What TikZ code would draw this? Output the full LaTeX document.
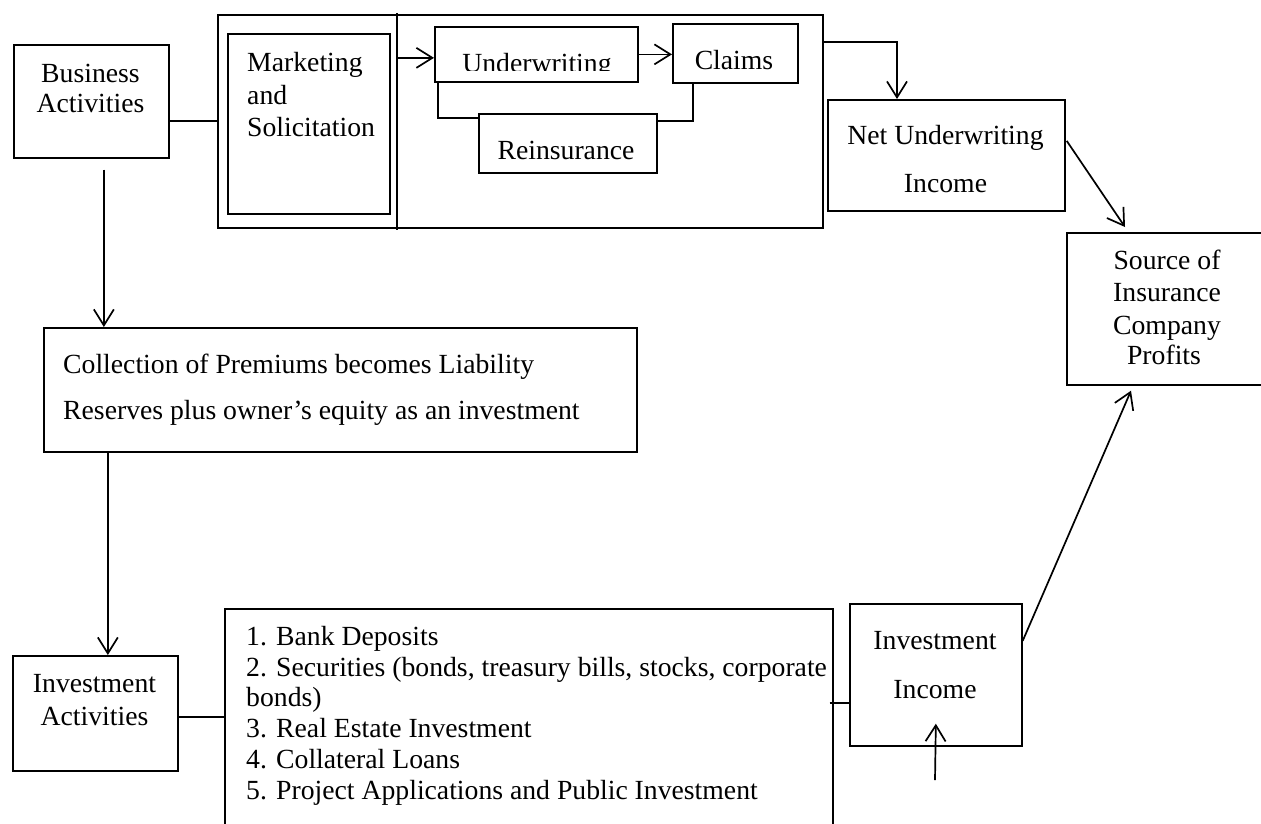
\documentclass[tikz,border=0pt]{standalone}
\usepackage{fontspec}
\setmainfont{Liberation Serif}
\usetikzlibrary{arrows.meta,calc}
\begin{document}
\begin{tikzpicture}[x=1pt,y=-1pt,
  ln/.style={line width=1.7pt},
  arr/.style={line width=1.7pt,-{Straight Barb[length=16pt,width=20pt]}},
  box/.style={draw,line width=1.7pt,inner sep=0pt,anchor=north west},
  txt/.style={inner sep=0pt,anchor=base,font=\fontsize{27.7}{32}\selectfont},
  ltxt/.style={txt,anchor=base west}]
\useasboundingbox (0,0) rectangle (1261,823);
\fill[white] (0,0) rectangle (1261,823);
% boxes
\node[box,minimum width=155pt,minimum height=113pt] (ba) at (13,44) {};
\node[box,minimum width=605pt,minimum height=213pt] (outer) at (217,14) {};
\node[box,minimum width=162pt,minimum height=180pt] (mk) at (227,33) {};
\node[box,minimum width=203pt,minimum height=55pt] (uw) at (434,26) {};
\node[box,minimum width=125pt,minimum height=59pt] (cl) at (672,23) {};
\node[box,minimum width=178pt,minimum height=59pt] (re) at (478,113) {};
\node[box,minimum width=237pt,minimum height=111pt] (nu) at (827,99) {};
\node[box,minimum width=210pt,minimum height=152pt] (so) at (1066,232) {};
\node[box,minimum width=593pt,minimum height=124pt] (co) at (43,327) {};
\node[box,minimum width=165pt,minimum height=115pt] (ia) at (12,655) {};
\node[box,minimum width=608pt,minimum height=240pt] (li) at (224,608) {};
\node[box,minimum width=172pt,minimum height=142pt] (ii) at (849,603) {};
% divider in the outer box
\coordinate (dvt) at (397,13);
\coordinate (dvb) at (397,230);
\draw[ln] (dvt) -- (dvb);
% texts
\node[txt] (t1) at (90.5,82) {Business};
\node[txt] (t2) at (90.5,112) {Activities};
\node[ltxt] (t3) at (247,71) {Marketing};
\node[ltxt] (t4) at (247,104) {and};
\node[ltxt] (t5) at (247,136) {Solicitation};
\begin{scope}
\clip (434,26) rectangle (637,70);
\node[txt] (t6) at (537,72.5) {Underwriting};
\end{scope}
\node[txt] (t7) at (734,69) {Claims};
\node[txt] (t8) at (566,159) {Reinsurance};
\node[txt] (t9) at (945.5,144) {Net Underwriting};
\node[txt] (t10) at (945.5,192) {Income};
\node[txt] (t11) at (1167,269) {Source of};
\node[txt] (t12) at (1167,301) {Insurance};
\node[txt] (t13) at (1167,334) {Company};
\node[txt] (t14) at (1164,364) {Profits};
\node[ltxt] (t15) at (63,373) {Collection of Premiums becomes Liability};
\node[ltxt] (t16) at (63,419) {Reserves plus owner’s equity as an investment};
\node[txt] (t17) at (94.5,692) {Investment};
\node[txt] (t18) at (94.5,725) {Activities};
\node[ltxt] (l1) at (246,645) {1. Bank Deposits};
\node[ltxt] (l2) at (246,676) {2. Securities (bonds, treasury bills, stocks, corporate};
\node[ltxt] (l3) at (246,706) {bonds)};
\node[ltxt] (l4) at (246,737) {3. Real Estate Investment};
\node[ltxt] (l5) at (246,768) {4. Collateral Loans};
\node[ltxt] (l6) at (246,799) {5. Project Applications and Public Investment};
\node[txt] (t19) at (935,649) {Investment};
\node[txt] (t20) at (935,698) {Income};
% helper points
\path ($(ba.east)+(0,19.5)$) coordinate (baR);
\path ($(ba.south)+(12.5,11)$) coordinate (baD);
\path ($(ia.north)+(12.5,0)$) coordinate (iaT);
\path ($(ia.east)+(0,3.5)$) coordinate (iaR);
\path ($(li.east |- ii.west)+(-4,28)$) coordinate (liR);
\coordinate (upS) at (935,780);
% connectors
\draw[ln] (baR) -- (baR -| outer.west);
\draw[arr] (baD) -- (baD |- co.north);
\draw[arr] (iaT |- co.south) -- (iaT);
\draw[ln] (iaR) -- (iaR -| li.west);
\draw[ln] (liR) -- (liR -| ii.west);
\draw[arr] (upS) -- ($(ii.south)+(0,-23)$);
\draw[arr] ($(ii.east)+(0,-34)$) -- ($(so.south west)+(65,5)$);
\draw[arr] ($(nu.east)+(1,-14.5)$) -- ($(so.north west)+(59,-5)$);
\draw[arr] ($(outer.north east)+(0,28)$) -| ($(nu.north west)+(70,0)$);
\draw[arr] ($(uw.west)+(-37,3.5)$) -- ($(uw.west)+(0,3.5)$);
\draw[arr] (uw.east) -- (uw.east -| cl.west);
\draw[ln] ($(uw.south west)+(4,0)$) |- ($(re.north west)+(0,5)$);
\draw[ln] ($(re.north east)+(0,8)$) -| ($(cl.south west)+(21,0)$);
\end{tikzpicture}
\end{document}
